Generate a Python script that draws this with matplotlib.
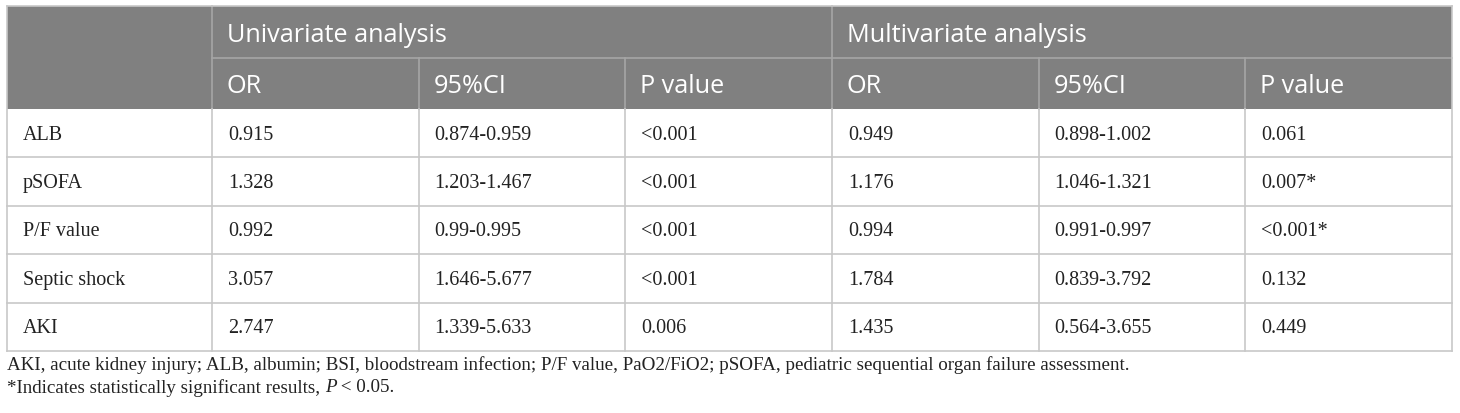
import matplotlib
matplotlib.use("Agg")
import matplotlib.pyplot as plt
from matplotlib.patches import Rectangle

# table content
groups = ["Univariate analysis", "Multivariate analysis"]
sub_cols = ["OR", "95%CI", "P value"]
variables = ["ALB", "pSOFA", "P/F value", "Septic shock", "AKI"]
uni_or = ["0.915", "1.328", "0.992", "3.057", "2.747"]
uni_ci = ["0.874-0.959", "1.203-1.467", "0.99-0.995", "1.646-5.677", "1.339-5.633"]
uni_p = ["<0.001", "<0.001", "<0.001", "<0.001", "0.006"]
multi_or = ["0.949", "1.176", "0.994", "1.784", "1.435"]
multi_ci = ["0.898-1.002", "1.046-1.321", "0.991-0.997", "0.839-3.792", "0.564-3.655"]
multi_p = ["0.061", "0.007*", "<0.001*", "0.132", "0.449"]
note1 = ("AKI, acute kidney injury; ALB, albumin; BSI, bloodstream infection; "
         "P/F value, PaO2/FiO2; pSOFA, pediatric sequential organ failure assessment.")
note2a = "*Indicates statistically significant results, "
note2b = "P"
note2c = " < 0.05."

W, H = 1460, 414
fig = plt.figure(figsize=(W/100, H/100), dpi=100)
ax = fig.add_axes([0, 0, 1, 1])
ax.set_xlim(0, W); ax.set_ylim(H, 0); ax.axis('off')

x0, x1 = 7, 1452
first_w = 205
col_w = (x1 - x0 - first_w) / 6
col_x = [x0, x0 + first_w] + [x0 + first_w + col_w*i for i in range(1, 7)]
y_top, h1, h2 = 7, 52, 51
row_h = 48.4
y_body = y_top + h1 + h2
hdr_bg = "#808080"
hdr_line = "#a6a6a6"
grid = "#c8c8c8"
txt = "#222222"
sans = "Open Sans"
serif = "Liberation Serif"

# header background + lines
ax.add_patch(Rectangle((x0, y_top), x1-x0, h1+h2, color=hdr_bg, lw=0, zorder=1))
for c in [1, 4]:
    ax.plot([col_x[c], col_x[c]], [y_top, y_body], color=hdr_line, lw=1.2, zorder=2)
for c in [2, 3, 5, 6]:
    ax.plot([col_x[c], col_x[c]], [y_top+h1, y_body], color=hdr_line, lw=1.2, zorder=2)
ax.plot([col_x[1], x1], [y_top+h1, y_top+h1], color=hdr_line, lw=1.2, zorder=2)

for g, name in enumerate(groups):
    ax.text(col_x[1 + 3*g] + 15, y_top + h1/2 + 2, name, color="white",
            fontsize=18.2, family=sans, va="center", ha="left", zorder=3)
    for s, sc in enumerate(sub_cols):
        ax.text(col_x[1 + 3*g + s] + 15, y_top + h1 + h2/2 + 2, sc, color="white",
                fontsize=18.2, family=sans, va="center", ha="left", zorder=3)

# body
columns = [variables, uni_or, uni_ci, uni_p, multi_or, multi_ci, multi_p]
y_end = y_body + row_h*len(variables)
for r in range(len(variables)):
    yc = y_body + row_h*(r + 0.5)
    for c, col in enumerate(columns):
        ax.text(col_x[c] + 16, yc + 1, col[r], fontsize=14.5, family=serif,
                va="center", ha="left", color=txt, zorder=3)
    ax.plot([x0, x1], [y_body + row_h*(r+1)]*2, color=grid, lw=1.2, zorder=2)
for c in range(1, 7):
    ax.plot([col_x[c], col_x[c]], [y_body, y_end], color=grid, lw=1.2, zorder=2)
ax.plot([x0, x0], [y_top, y_end], color=grid, lw=1.2, zorder=2)
ax.plot([x1, x1], [y_top, y_end], color=grid, lw=1.2, zorder=2)
ax.plot([x0, x1], [y_top, y_top], color=grid, lw=1.2, zorder=2)

# footnotes
fs_note = 13.7
ax.text(x0, 365, note1, fontsize=fs_note, family=serif, va="center", ha="left", color=txt)
fig.canvas.draw()
rend = fig.canvas.get_renderer()
inv = ax.transData.inverted()
t = ax.text(x0, 388, note2a, fontsize=fs_note, family=serif, va="center", ha="left", color=txt)
xe = inv.transform(t.get_window_extent(rend))[1][0]
t2 = ax.text(xe, 388, note2b, fontsize=fs_note, family=serif, style="italic",
             va="center", ha="left", color=txt)
xe2 = inv.transform(t2.get_window_extent(rend))[1][0]
ax.text(xe2, 388, note2c, fontsize=fs_note, family=serif, va="center", ha="left", color=txt)

fig.savefig("out.png", dpi=100, facecolor="white")
